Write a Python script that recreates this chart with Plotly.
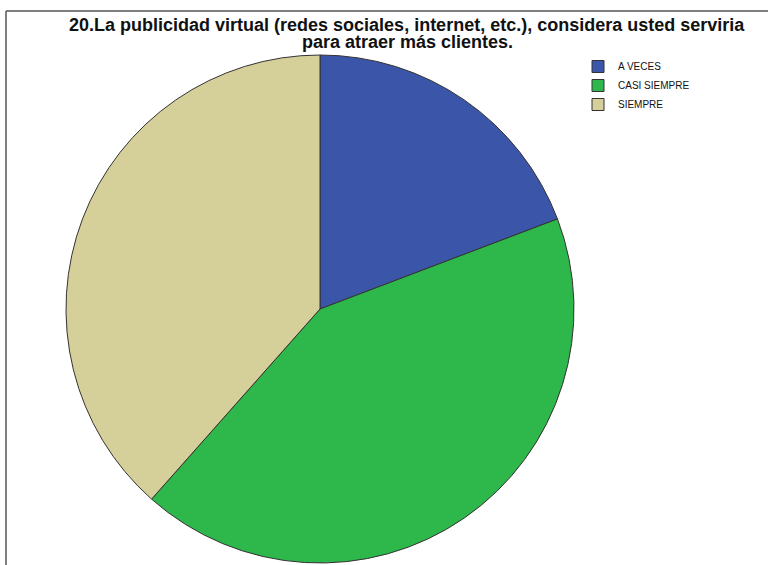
import plotly.graph_objects as go

# Response categories and counts
categorias = ["A VECES", "CASI SIEMPRE", "SIEMPRE"]
frecuencias = [5, 11, 10]
colores = ["#3b55a9", "#2eb84b", "#d5cf99"]

titulo_lineas = [
    "20.La publicidad virtual (redes sociales, internet, etc.), considera usted serviria",
    "para atraer más clientes.",
]

W, H = 768, 565
cx, cy, r = 320, 309, 254  # pie centre and radius in pixels
FUENTE_TITULO = "Liberation Sans, Arial, sans-serif"


def px_x(x):
    return x / W


def px_y(y):
    return 1 - y / H


fig = go.Figure(
    go.Pie(
        labels=categorias,
        values=frecuencias,
        sort=False,
        direction="clockwise",
        rotation=0,
        textinfo="none",
        hoverinfo="label+value+percent",
        marker=dict(colors=colores, line=dict(color="#333333", width=1)),
        domain=dict(x=[px_x(cx - r), px_x(cx + r)], y=[px_y(cy + r), px_y(cy - r)]),
    )
)

# Two-line title, set as annotations for tight line spacing
for i, linea in enumerate(titulo_lineas):
    fig.add_annotation(
        text="<b>" + linea + "</b>",
        xref="paper", yref="paper",
        x=px_x(407), y=px_y(25 + 17 * i),
        xanchor="center", yanchor="middle",
        showarrow=False,
        font=dict(size=18, family=FUENTE_TITULO, color="#111111"),
    )

fig.update_layout(
    width=W,
    height=H,
    margin=dict(l=0, r=0, t=0, b=0),
    paper_bgcolor="white",
    plot_bgcolor="white",
    font=dict(family="Liberation Sans, Arial, sans-serif", color="#111111"),
    legend=dict(
        x=px_x(578),
        y=px_y(52),
        xanchor="left",
        yanchor="top",
        font=dict(size=10, family="Liberation Sans, Arial, sans-serif"),
        bgcolor="rgba(0,0,0,0)",
        tracegroupgap=0,
    ),
    shapes=[
        dict(type="line", xref="paper", yref="paper",
             x0=px_x(6), y0=px_y(11), x1=1, y1=px_y(11),
             line=dict(color="#555555", width=1.5)),
        dict(type="line", xref="paper", yref="paper",
             x0=px_x(6), y0=px_y(11), x1=px_x(6), y1=0,
             line=dict(color="#555555", width=1.5)),
    ],
)

fig.write_html("out.html")
